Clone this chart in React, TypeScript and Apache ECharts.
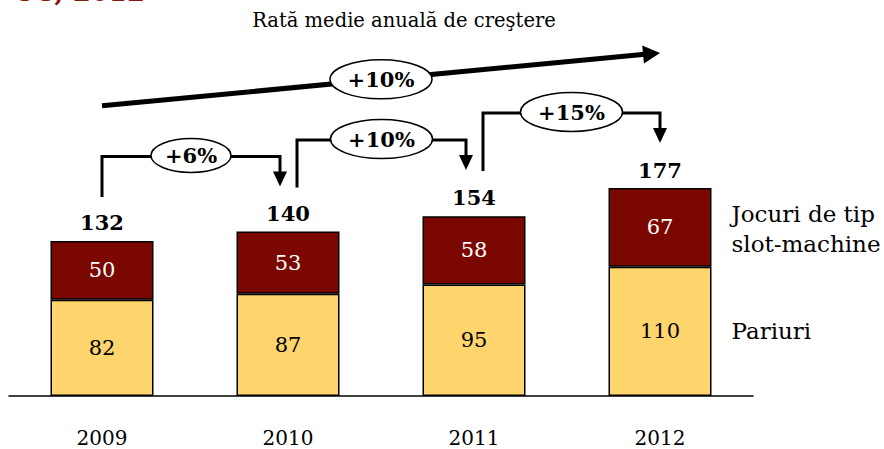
import React, { useEffect, useRef } from "react";
import * as echarts from "echarts";

const years = ["2009", "2010", "2011", "2012"];
const betting = [82, 87, 95, 110];
const slots = [50, 53, 58, 67];
const totals = [132, 140, 154, 177];
const yoyGrowth = ["+6%", "+10%", "+15%"];
const cagrLabel = "+10%";
const seriesNames = ["Pariuri", "Jocuri de tip\nslot-machine"];
const chartTitle = "Rată medie anuală de creştere";
const cutTitle = "CU, 2012";

const FONT = "'DejaVu Serif', serif";
const YELLOW = "#FED56C";
const DARKRED = "#7A0800";

function txt(text: string, x: number, y: number, size: number, opts: any = {}) {
  const align = opts.align || "center";
  const va = opts.va || "middle";
  return {
    type: "text",
    x,
    y,
    z: 100,
    silent: true,
    style: {
      text,
      fill: opts.color || "#000",
      font: `${opts.weight || "normal"} ${size}px ${FONT}`,
      align,
      textAlign: align,
      verticalAlign: va,
      textVerticalAlign: va,
      lineHeight: opts.lineHeight,
    },
  };
}

export default function App() {
  const ref = useRef<HTMLDivElement>(null);
  useEffect(() => {
    const el = ref.current!;
    const chart = echarts.init(el, null, { renderer: "svg" });
    chart.setOption({
      animation: false,
      grid: { left: 9, right: 131, top: 161, bottom: 53 },
      xAxis: {
        type: "category",
        data: years,
        axisTick: { show: false },
        axisLine: { lineStyle: { color: "#000", width: 1.5 } },
        axisLabel: { color: "#000", fontFamily: FONT, fontSize: 20, margin: 32 },
      },
      yAxis: { type: "value", min: 0, max: 200, show: false },
      series: [
        {
          name: seriesNames[0],
          type: "bar",
          stack: "t",
          data: betting,
          barWidth: 103,
          itemStyle: { color: YELLOW, borderColor: "#000", borderWidth: 1.5 },
          label: { show: true, position: "inside", color: "#000", fontFamily: FONT, fontSize: 21 },
        },
        {
          name: seriesNames[1],
          type: "bar",
          stack: "t",
          data: slots,
          barWidth: 103,
          itemStyle: { color: DARKRED, borderColor: "#000", borderWidth: 1.5 },
          label: { show: true, position: "inside", color: "#fff", fontFamily: FONT, fontSize: 21 },
        },
        {
          type: "scatter",
          data: totals,
          symbolSize: 1,
          silent: true,
          itemStyle: { color: "rgba(0,0,0,0)", opacity: 1 },
          label: {
            show: true,
            position: "top",
            distance: 7,
            color: "#000",
            fontFamily: FONT,
            fontWeight: "bold",
            fontSize: 21,
          },
        },
      ],
    });

    const px = (i: number, v: number) =>
      chart.convertToPixel({ xAxisIndex: 0, yAxisIndex: 0 }, [i, v]) as number[];

    const g: any[] = [];
    // year-over-year connectors
    for (let i = 0; i < yoyGrowth.length; i++) {
      const [x0, top0] = px(i, totals[i]);
      const [x1, top1] = px(i + 1, totals[i + 1]);
      const sx = x0 + (i === 0 ? 0 : 9);
      const sy = top0 - 44;
      const ex = x1 - (i + 1 < totals.length - 1 ? 8 : 0);
      const tipY = top1 - 45;
      const hy = tipY - 30;
      g.push({
        type: "polyline",
        silent: true,
        shape: { points: [[sx, sy], [sx, hy], [ex, hy], [ex, tipY - 12]] },
        style: { stroke: "#000", lineWidth: 3, fill: null },
      });
      g.push({
        type: "polygon",
        silent: true,
        shape: { points: [[ex - 7, tipY - 15], [ex + 7, tipY - 15], [ex, tipY]] },
        style: { fill: "#000" },
      });
      const label = yoyGrowth[i];
      const cx = (sx + ex) / 2;
      const rx = label.length <= 3 ? 40 : 51;
      const ry = label.length <= 3 ? 17 : 19.5;
      g.push({
        type: "ellipse",
        silent: true,
        z: 90,
        shape: { cx, cy: hy - 1, rx, ry },
        style: { fill: "#fff", stroke: "#000", lineWidth: 1.5 },
      });
      g.push(txt(label, cx, hy - 1, 21, { weight: "bold" }));
    }

    // CAGR arrow
    const [ax0, ay0] = px(0, 247);
    const [ax1, ay1] = px(totals.length - 1, 292);
    const ang = Math.atan2(ay1 - ay0, ax1 - ax0);
    const hl = 17, hw = 9;
    const bx = ax1 - hl * Math.cos(ang), by = ay1 - hl * Math.sin(ang);
    const nx = -Math.sin(ang), ny = Math.cos(ang);
    g.push({
      type: "line",
      silent: true,
      shape: { x1: ax0, y1: ay0, x2: bx + 2 * Math.cos(ang), y2: by + 2 * Math.sin(ang) },
      style: { stroke: "#000", lineWidth: 5 },
    });
    g.push({
      type: "polygon",
      silent: true,
      shape: { points: [[ax1, ay1], [bx + nx * hw, by + ny * hw], [bx - nx * hw, by - ny * hw]] },
      style: { fill: "#000" },
    });
    const mcx = (ax0 + ax1) / 2, mcy = (ay0 + ay1) / 2;
    g.push({
      type: "ellipse",
      silent: true,
      z: 90,
      shape: { cx: mcx, cy: mcy, rx: 51, ry: 19.5 },
      style: { fill: "#fff", stroke: "#000", lineWidth: 1.5 },
    });
    g.push(txt(cagrLabel, mcx, mcy, 21, { weight: "bold" }));

    // title texts
    g.push(txt(chartTitle, 404, 20, 19.5));
    g.push(txt(cutTitle, 145, 5, 26, { weight: "bold", color: "#8B1A12", align: "right", va: "bottom" }));

    // series labels on the right
    const last = totals.length - 1;
    const [lx, pY] = px(last, betting[last] / 2);
    const [, jY] = px(last, betting[last] + slots[last] / 2);
    const labelX = lx + 51.5 + 20;
    g.push(txt(seriesNames[1], labelX, jY + 2, 23, { align: "left", lineHeight: 30 }));
    g.push(txt(seriesNames[0], labelX, pY, 23, { align: "left" }));

    chart.setOption({ graphic: { elements: g } });

    return () => chart.dispose();
  }, []);
  return (
    <div
      ref={ref}
      style={{ position: "fixed", left: 0, top: 0, width: 884, height: 449, background: "#fff" }}
    />
  );
}
